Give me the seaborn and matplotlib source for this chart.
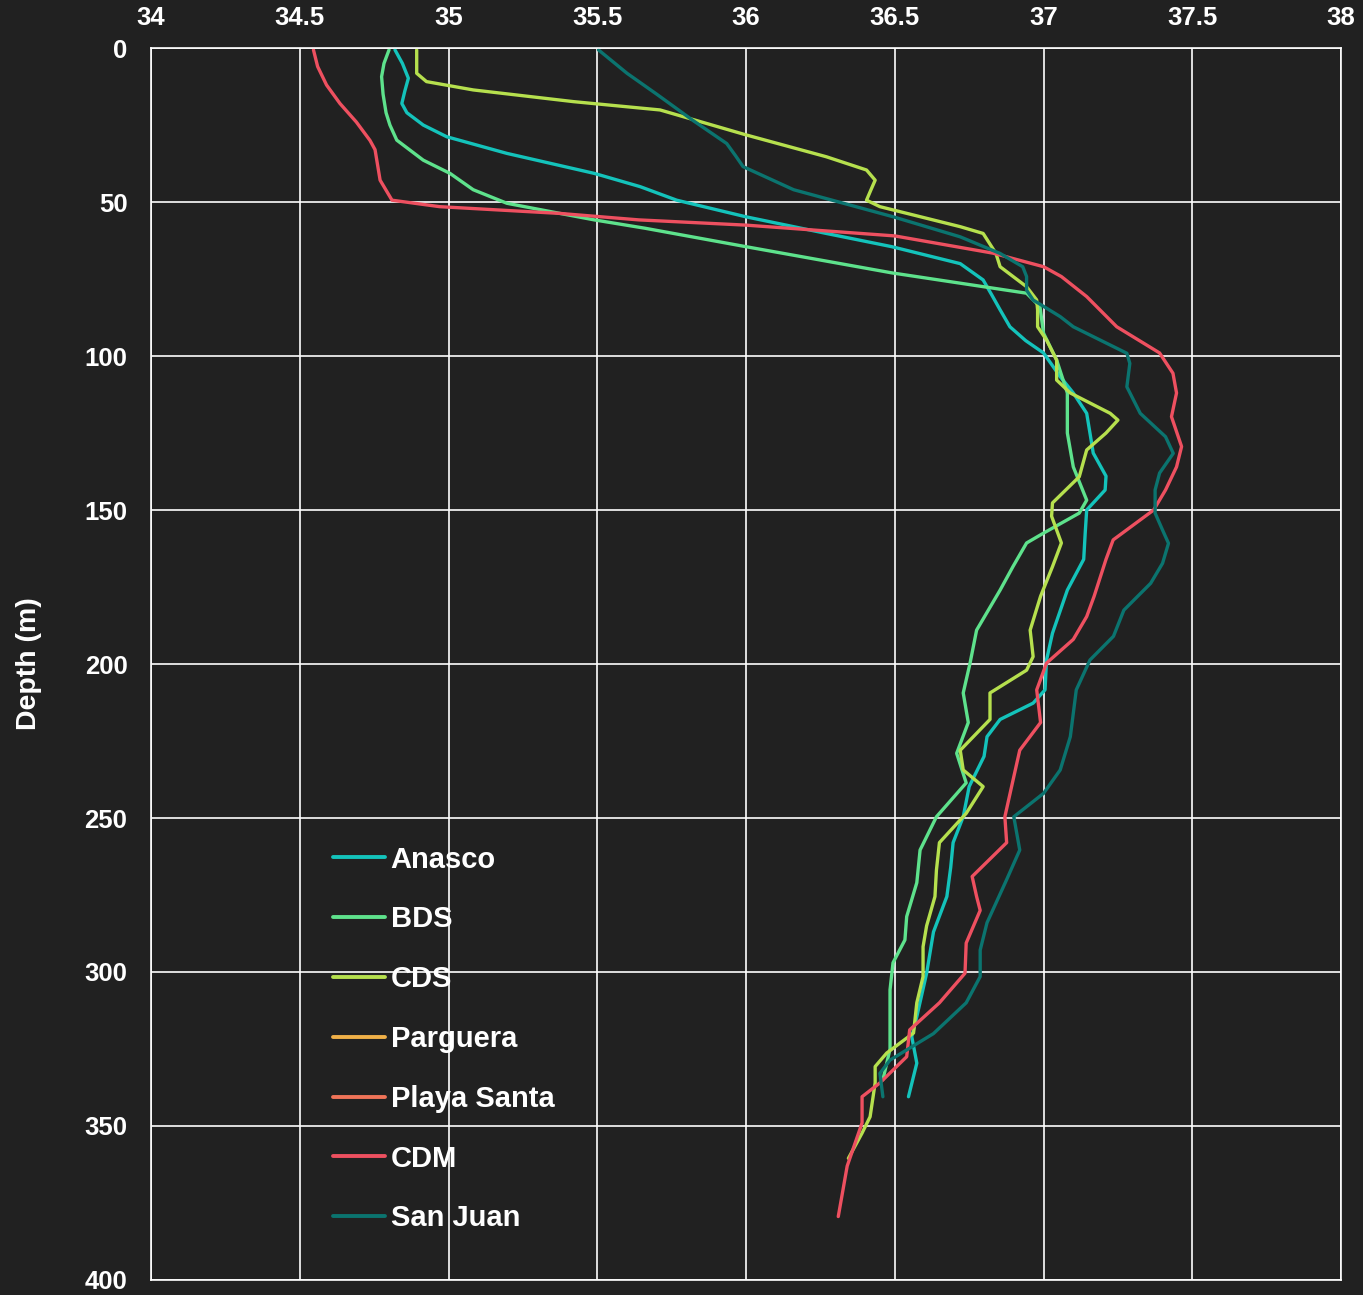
import matplotlib
matplotlib.use("Agg")
import matplotlib.pyplot as plt
from matplotlib.lines import Line2D
import numpy as np
import pandas as pd
import seaborn as sns

# Salinity profiles (depth in m, salinity)
anasco_depth = [0.6, 5, 9.8, 14, 18, 21, 25, 28.8, 34.2, 40.7, 45, 49.4, 54.8, 60.2, 64.5, 70, 75.3,
                80, 85, 90.5, 95, 99, 106.7, 112, 118.6, 125, 131.5, 139, 143.5, 150, 157.5, 166,
                176, 190, 198.7, 208.4, 212.7, 218, 223.6, 230, 239.8, 249.6, 258, 266, 275.5, 287,
                300.4, 314.5, 321, 329.6, 340.5]
anasco_sal = [34.82, 34.845, 34.865, 34.853, 34.843, 34.86, 34.915, 34.994, 35.196, 35.49, 35.644,
              35.767, 36.0, 36.27, 36.49, 36.72, 36.797, 36.825, 36.854, 36.887, 36.94, 37.0, 37.056,
              37.10, 37.145, 37.156, 37.167, 37.21, 37.207, 37.145, 37.14, 37.135, 37.08, 37.03,
              37.01, 37.005, 36.965, 36.854, 36.81, 36.80, 36.75, 36.73, 36.696, 36.688, 36.675,
              36.63, 36.607, 36.574, 36.557, 36.574, 36.546]

bds_depth = [0.6, 5, 9.3, 15, 21, 25, 29.9, 36.4, 40.7, 46, 50.4, 53.7, 55.8, 58.5, 64.5, 73, 79.6,
             84, 92.6, 101.3, 112, 125, 136, 146.8, 151, 157.5, 160.7, 168.4, 176, 189, 199.7, 209.4,
             219, 229, 238.6, 249.6, 260.4, 271, 282, 289.6, 297, 305.8, 325, 335]
bds_sal = [34.80, 34.783, 34.775, 34.78, 34.79, 34.803, 34.826, 34.915, 35.005, 35.083, 35.196,
           35.375, 35.49, 35.66, 36.0, 36.49, 36.943, 36.988, 37.0, 37.044, 37.08, 37.08, 37.10,
           37.145, 37.12, 37.0, 36.943, 36.897, 36.854, 36.775, 36.753, 36.73, 36.747, 36.708,
           36.74, 36.64, 36.585, 36.574, 36.54, 36.534, 36.494, 36.484, 36.484, 36.46]

cds_depth = [0.6, 8.2, 10.9, 13.6, 17.4, 20.1, 28.2, 35.3, 39.6, 42.9, 46, 49.4, 51.5, 58, 60.2,
             66.7, 71, 77.5, 81.8, 85, 90.5, 94.8, 101.3, 107.8, 112, 118.6, 120.8, 125, 130.5,
             139.2, 147.7, 152, 160.7, 168.4, 178, 189, 197.6, 202, 209.4, 218, 228, 234.4, 239.8,
             248.5, 258, 266.9, 275.5, 285, 291.8, 301.5, 310, 319.8, 326.3, 330.7, 336, 347,
             352.3, 360.5]
cds_sal = [34.893, 34.893, 34.926, 35.083, 35.42, 35.711, 36.0, 36.27, 36.405, 36.434, 36.42,
           36.405, 36.45, 36.72, 36.797, 36.84, 36.854, 36.943, 36.977, 36.98, 36.98, 37.01,
           37.044, 37.044, 37.09, 37.224, 37.25, 37.21, 37.145, 37.12, 37.03, 37.027, 37.06,
           37.03, 36.99, 36.955, 36.965, 36.943, 36.82, 36.82, 36.72, 36.73, 36.797, 36.74,
           36.65, 36.64, 36.635, 36.607, 36.595, 36.595, 36.574, 36.563, 36.473, 36.434, 36.434,
           36.417, 36.39, 36.344]

# no data drawn for these two, legend only
parguera_depth = []
parguera_sal = []
playa_depth = []
playa_sal = []

cdm_depth = [0.6, 6, 12, 18, 24, 30, 33, 42.9, 49.4, 51.5, 53.7, 55.8, 57.5, 61, 66.6, 71, 74.2,
             80.7, 90.5, 99, 105.6, 112, 119.7, 129.4, 136, 143.5, 150, 159.7, 166, 178, 184.6,
             192, 199.7, 208.4, 219, 228, 236.6, 249.6, 258, 269, 275.5, 280, 290.6, 300.4, 310,
             318.8, 327.5, 336, 340.5, 349, 363, 379.4]
cdm_sal = [34.546, 34.56, 34.59, 34.635, 34.69, 34.736, 34.753, 34.77, 34.81, 34.97, 35.375,
           35.64, 36.0, 36.5, 36.83, 37.0, 37.06, 37.145, 37.246, 37.39, 37.435, 37.447, 37.43,
           37.464, 37.447, 37.41, 37.37, 37.234, 37.21, 37.17, 37.145, 37.10, 37.01, 36.977,
           36.99, 36.92, 36.90, 36.87, 36.876, 36.76, 36.775, 36.787, 36.74, 36.736, 36.65,
           36.55, 36.54, 36.45, 36.39, 36.39, 36.34, 36.31]

sanjuan_depth = [0.6, 8.2, 15, 23.4, 31, 35, 38.5, 46, 54.8, 61.3, 66.7, 71, 74.2, 78.6, 81.8,
                 87.2, 90.5, 99.1, 102.4, 110, 118.6, 126.2, 131.6, 138, 143.5, 151, 156.5, 160.8,
                 167.3, 173.8, 182.5, 191, 198.7, 208.4, 223.6, 234.4, 242, 249.6, 260.4, 270, 284,
                 292.9, 301.5, 310, 320, 325.3, 328.6, 332.9, 340.5]
sanjuan_sal = [35.504, 35.60, 35.70, 35.82, 35.935, 35.965, 35.99, 36.16, 36.495, 36.72, 36.854,
               36.93, 36.943, 36.943, 36.965, 37.056, 37.10, 37.28, 37.29, 37.28, 37.325, 37.41,
               37.436, 37.39, 37.375, 37.375, 37.40, 37.42, 37.40, 37.36, 37.27, 37.235, 37.156,
               37.11, 37.09, 37.056, 37.0, 36.90, 36.92, 36.876, 36.81, 36.787, 36.787, 36.74,
               36.63, 36.54, 36.484, 36.45, 36.46]

stations = ["Anasco", "BDS", "CDS", "Parguera", "Playa Santa", "CDM", "San Juan"]
colors = ["#14c3bb", "#5ee28c", "#b6e04e", "#f0b048", "#f07458", "#ee5060", "#0b746f"]
profiles = [(anasco_depth, anasco_sal), (bds_depth, bds_sal), (cds_depth, cds_sal),
            (parguera_depth, parguera_sal), (playa_depth, playa_sal),
            (cdm_depth, cdm_sal), (sanjuan_depth, sanjuan_sal)]

x_ticks = [34, 34.5, 35, 35.5, 36, 36.5, 37, 37.5, 38]
x_labels = ["34", "34.5", "35", "35.5", "36", "36.5", "37", "37.5", "38"]
y_ticks = [0, 50, 100, 150, 200, 250, 300, 350, 400]

bg = "#212121"
sns.set_style("dark")
plt.rcParams["font.family"] = ["Liberation Sans", "DejaVu Sans"]

fig = plt.figure(figsize=(13.63, 12.95), dpi=100, facecolor=bg)
ax = fig.add_axes([0.1108, 0.0116, 0.8731, 0.9513])
ax.set_facecolor(bg)

for name, col, (d, s) in zip(stations, colors, profiles):
    if len(d) == 0:
        continue
    df = pd.DataFrame({"depth": d, "salinity": s})
    sns.lineplot(data=df, x="salinity", y="depth", sort=False, estimator=None,
                 orient="y", color=col, linewidth=2.4, ax=ax, legend=False,
                 solid_joinstyle="round", solid_capstyle="round")

ax.set_xlim(34, 38)
ax.set_ylim(400, 0)
ax.xaxis.tick_top()
ax.set_xticks(x_ticks)
ax.set_xticklabels(x_labels)
ax.set_yticks(y_ticks)
ax.set_yticklabels([str(v) for v in y_ticks])
ax.tick_params(axis="both", length=0, colors="white", labelsize=18.5)
ax.tick_params(axis="x", pad=13)
ax.tick_params(axis="y", pad=17)
for lab in ax.get_xticklabels() + ax.get_yticklabels():
    lab.set_fontweight("bold")

ax.set_xlabel("")
ax.set_ylabel("Depth (m)", color="white", fontsize=20.5, fontweight="bold")
ax.yaxis.set_label_coords(-0.0916, 0.5)

ax.grid(True, color="white", linewidth=1.2)
ax.set_axisbelow(True)
for sp in ax.spines.values():
    sp.set_visible(True)
    sp.set_color("white")
    sp.set_linewidth(1.2)

handles = [Line2D([0], [0], color=c, linewidth=2.8) for c in colors]
leg = ax.legend(handles, stations, loc="upper left", bbox_to_anchor=(0.143, 0.362),
                frameon=False, fontsize=21, labelspacing=1.09, handlelength=1.78,
                handletextpad=0.2, borderaxespad=0)
for t in leg.get_texts():
    t.set_color("white")
    t.set_fontweight("bold")
leg.set_zorder(0.3)

fig.savefig("out.png", dpi=100, facecolor=bg)
